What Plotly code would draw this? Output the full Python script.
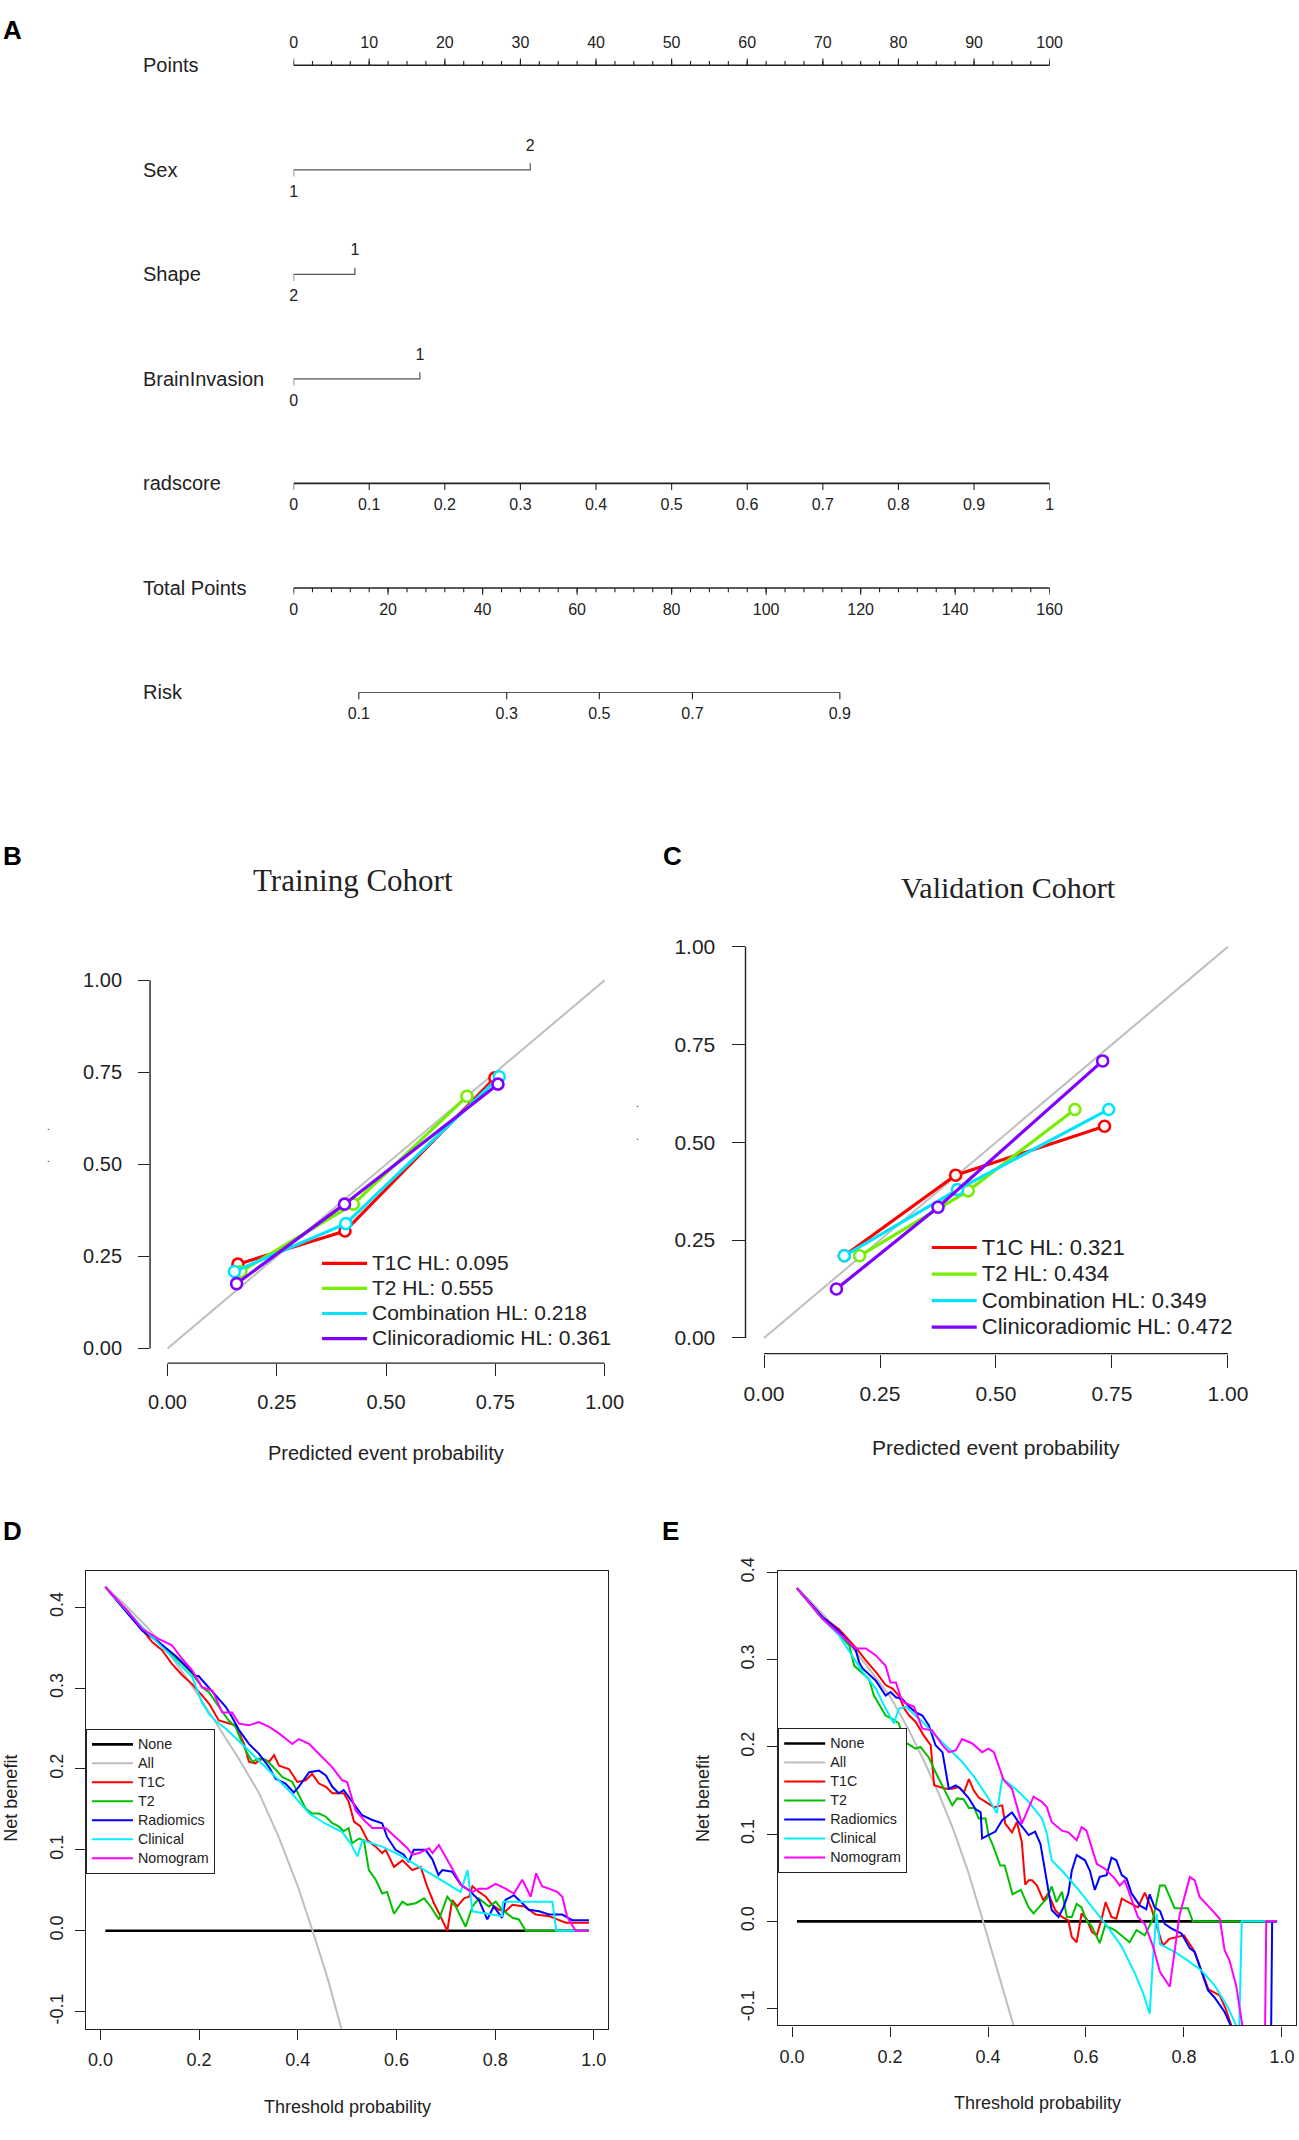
import numpy as np
import plotly.graph_objects as go

W, H = 1299, 2140
FONT = "Liberation Sans, Arial, Helvetica, sans-serif"
SERIF = "Liberation Serif, Times New Roman, serif"
INK = "#222222"

# ======================= DATA =======================
# ---- Panel A : nomogram ----
nomo_rows = ["Points", "Sex", "Shape", "BrainInvasion", "radscore", "Total Points", "Risk"]
points_ticks = [0, 10, 20, 30, 40, 50, 60, 70, 80, 90, 100]
points_minor_step = 2.5
sex_levels = ["1", "2"]
sex_points = [0, 31.3]
shape_levels = ["2", "1"]
shape_points = [0, 8.1]
brain_levels = ["0", "1"]
brain_points = [0, 16.7]
radscore_ticks = [0, 0.1, 0.2, 0.3, 0.4, 0.5, 0.6, 0.7, 0.8, 0.9, 1]
radscore_labels = ["0", "0.1", "0.2", "0.3", "0.4", "0.5", "0.6", "0.7", "0.8", "0.9", "1"]
radscore_full_points = 100
total_ticks = [0, 20, 40, 60, 80, 100, 120, 140, 160]
total_minor_step = 4
total_max = 160
risk_labels = ["0.1", "0.3", "0.5", "0.7", "0.9"]
risk_total_points = [13.8, 45.1, 64.7, 84.4, 115.6]

# ---- Panels B / C : calibration ----
cal_ticks = [0, 0.25, 0.5, 0.75, 1.0]
cal_ticktext = ["0.00", "0.25", "0.50", "0.75", "1.00"]
cal_models = ["T1C", "T2", "Combination", "Clinicoradiomic"]
train_hl = ["0.095", "0.555", "0.218", "0.361"]
valid_hl = ["0.321", "0.434", "0.349", "0.472"]
train_pred = [[0.161, 0.406, 0.749], [0.168, 0.425, 0.685], [0.153, 0.408, 0.759], [0.158, 0.405, 0.756]]
train_obs = [[0.229, 0.319, 0.735], [0.209, 0.392, 0.685], [0.209, 0.339, 0.738], [0.176, 0.392, 0.718]]
valid_pred = [[0.173, 0.413, 0.734], [0.206, 0.440, 0.670], [0.173, 0.417, 0.743], [0.156, 0.375, 0.730]]
valid_obs = [[0.210, 0.416, 0.541], [0.210, 0.376, 0.584], [0.210, 0.379, 0.584], [0.125, 0.334, 0.708]]
ideal = [0, 1]

# ---- Panels D / E : decision curves ----
dca_names = ["None", "All", "T1C", "T2", "Radiomics", "Clinical", "Nomogram"]
dca_xticks = [0, 0.2, 0.4, 0.6, 0.8, 1.0]
dca_xticktext = ["0.0", "0.2", "0.4", "0.6", "0.8", "1.0"]
dca_yticks = [-0.1, 0, 0.1, 0.2, 0.3, 0.4]
dca_yticktext = ["-0.1", "0.0", "0.1", "0.2", "0.3", "0.4"]

d_none = [(0.01, 0.0), (0.99, 0.0)]
d_all = [(0.01, 0.425), (0.05, 0.403), (0.10, 0.372), (0.15, 0.334), (0.20, 0.290), (0.24, 0.252),
         (0.28, 0.213), (0.32, 0.172), (0.36, 0.118), (0.40, 0.055), (0.43, 0.0), (0.46, -0.058), (0.49, -0.125)]
d_t1c = [(0.01, 0.425), (0.057, 0.394), (0.085, 0.372), (0.105, 0.357), (0.125, 0.347), (0.145, 0.330),
         (0.166, 0.316), (0.186, 0.305), (0.206, 0.291), (0.220, 0.281), (0.240, 0.260), (0.260, 0.256),
         (0.274, 0.254), (0.291, 0.231), (0.301, 0.209), (0.314, 0.207), (0.328, 0.213), (0.342, 0.209),
         (0.352, 0.217), (0.362, 0.204), (0.382, 0.200), (0.399, 0.184), (0.416, 0.186), (0.429, 0.194),
         (0.443, 0.182), (0.457, 0.178), (0.470, 0.170), (0.493, 0.170), (0.503, 0.160), (0.514, 0.135),
         (0.527, 0.129), (0.541, 0.112), (0.558, 0.104), (0.571, 0.096), (0.578, 0.100), (0.595, 0.079),
         (0.612, 0.087), (0.632, 0.075), (0.649, 0.079), (0.662, 0.055), (0.676, 0.034), (0.689, 0.018),
         (0.703, 0.0), (0.713, 0.038), (0.723, 0.030), (0.737, 0.040), (0.747, 0.042), (0.754, 0.055),
         (0.767, 0.048), (0.781, 0.042), (0.794, 0.032), (0.808, 0.026), (0.821, 0.024), (0.835, 0.032),
         (0.859, 0.030), (0.882, 0.020), (0.909, 0.018), (0.943, 0.010), (0.99, 0.010)]
d_t2 = [(0.01, 0.425), (0.057, 0.394), (0.085, 0.374), (0.118, 0.357), (0.145, 0.342), (0.166, 0.330),
        (0.186, 0.318), (0.206, 0.301), (0.220, 0.295), (0.240, 0.277), (0.260, 0.260), (0.274, 0.252),
        (0.288, 0.231), (0.298, 0.219), (0.308, 0.209), (0.321, 0.213), (0.335, 0.211), (0.348, 0.204),
        (0.369, 0.190), (0.389, 0.184), (0.402, 0.169), (0.416, 0.151), (0.429, 0.145), (0.443, 0.145),
        (0.457, 0.141), (0.470, 0.133), (0.483, 0.129), (0.493, 0.123), (0.503, 0.127), (0.510, 0.108),
        (0.524, 0.114), (0.534, 0.112), (0.544, 0.075), (0.558, 0.063), (0.571, 0.046), (0.581, 0.048),
        (0.595, 0.021), (0.612, 0.036), (0.622, 0.032), (0.639, 0.034), (0.656, 0.040), (0.669, 0.030),
        (0.686, 0.014), (0.703, 0.042), (0.720, 0.030), (0.740, 0.005), (0.754, 0.030), (0.767, 0.040),
        (0.787, 0.030), (0.801, 0.036), (0.814, 0.026), (0.835, 0.016), (0.848, 0.014), (0.862, 0.0),
        (0.99, 0.0)]
d_radiomics = [(0.01, 0.425), (0.057, 0.392), (0.085, 0.371), (0.118, 0.357), (0.152, 0.340), (0.179, 0.324),
               (0.193, 0.315), (0.199, 0.315), (0.213, 0.305), (0.233, 0.291), (0.254, 0.277), (0.267, 0.264),
               (0.281, 0.248), (0.301, 0.231), (0.321, 0.219), (0.342, 0.202), (0.355, 0.188), (0.375, 0.182),
               (0.392, 0.171), (0.402, 0.178), (0.423, 0.196), (0.443, 0.198), (0.457, 0.192), (0.470, 0.178),
               (0.483, 0.170), (0.493, 0.174), (0.503, 0.166), (0.514, 0.157), (0.530, 0.143), (0.551, 0.137),
               (0.571, 0.133), (0.581, 0.116), (0.598, 0.100), (0.615, 0.094), (0.625, 0.085), (0.635, 0.100),
               (0.659, 0.100), (0.673, 0.088), (0.685, 0.069), (0.693, 0.075), (0.713, 0.073), (0.730, 0.057),
               (0.747, 0.050), (0.767, 0.038), (0.784, 0.014), (0.797, 0.030), (0.814, 0.016), (0.821, 0.038),
               (0.838, 0.044), (0.855, 0.034), (0.868, 0.026), (0.889, 0.024), (0.909, 0.020), (0.936, 0.020),
               (0.956, 0.013), (0.99, 0.013)]
d_clinical = [(0.01, 0.425), (0.057, 0.393), (0.085, 0.375), (0.118, 0.355), (0.152, 0.334), (0.186, 0.314),
              (0.206, 0.282), (0.220, 0.268), (0.236, 0.258), (0.254, 0.250), (0.287, 0.231), (0.321, 0.211),
              (0.355, 0.190), (0.389, 0.169), (0.423, 0.145), (0.457, 0.132), (0.490, 0.122), (0.507, 0.108),
              (0.521, 0.092), (0.531, 0.112), (0.571, 0.104), (0.605, 0.094), (0.646, 0.079), (0.686, 0.065),
              (0.730, 0.048), (0.744, 0.075), (0.754, 0.024), (0.774, 0.022), (0.814, 0.018), (0.816, 0.036),
              (0.916, 0.036), (0.924, 0.0), (0.99, 0.0)]
d_nomogram = [(0.01, 0.425), (0.057, 0.394), (0.085, 0.373), (0.118, 0.361), (0.145, 0.353), (0.166, 0.336),
              (0.186, 0.322), (0.206, 0.301), (0.227, 0.297), (0.247, 0.270), (0.267, 0.270), (0.281, 0.256),
              (0.301, 0.254), (0.321, 0.258), (0.342, 0.252), (0.362, 0.244), (0.389, 0.231), (0.402, 0.237),
              (0.423, 0.231), (0.443, 0.219), (0.470, 0.202), (0.490, 0.186), (0.500, 0.184), (0.517, 0.149),
              (0.537, 0.135), (0.551, 0.127), (0.578, 0.127), (0.605, 0.112), (0.622, 0.102), (0.632, 0.094),
              (0.646, 0.096), (0.666, 0.102), (0.673, 0.096), (0.686, 0.106), (0.703, 0.087), (0.720, 0.069),
              (0.733, 0.055), (0.754, 0.048), (0.767, 0.052), (0.784, 0.052), (0.801, 0.058), (0.821, 0.052),
              (0.838, 0.046), (0.855, 0.063), (0.872, 0.042), (0.883, 0.071), (0.895, 0.055), (0.909, 0.052),
              (0.926, 0.048), (0.936, 0.042), (0.946, 0.017), (0.963, 0.0), (0.99, 0.0)]

e_none = [(0.01, 0.0), (0.99, 0.0)]
e_all = [(0.01, 0.383), (0.05, 0.360), (0.10, 0.330), (0.15, 0.295), (0.20, 0.258), (0.237, 0.221),
         (0.27, 0.183), (0.30, 0.146), (0.33, 0.104), (0.36, 0.056), (0.39, 0.0), (0.42, -0.058), (0.455, -0.125)]
e_t1c = [(0.01, 0.382), (0.062, 0.349), (0.096, 0.335), (0.130, 0.314), (0.151, 0.299), (0.171, 0.286),
         (0.191, 0.271), (0.205, 0.267), (0.218, 0.259), (0.229, 0.244), (0.239, 0.236), (0.252, 0.229),
         (0.269, 0.213), (0.283, 0.202), (0.290, 0.156), (0.313, 0.152), (0.327, 0.152), (0.340, 0.154),
         (0.351, 0.148), (0.361, 0.163), (0.371, 0.150), (0.381, 0.142), (0.395, 0.137), (0.412, 0.131),
         (0.429, 0.133), (0.435, 0.112), (0.449, 0.102), (0.459, 0.114), (0.469, 0.091), (0.476, 0.042),
         (0.483, 0.047), (0.490, 0.047), (0.500, 0.041), (0.513, 0.024), (0.523, 0.032), (0.537, 0.013),
         (0.551, 0.005), (0.564, 0.001), (0.571, -0.018), (0.581, -0.024), (0.591, 0.009), (0.601, 0.003),
         (0.612, -0.012), (0.622, -0.016), (0.632, 0.003), (0.640, 0.022), (0.652, 0.005), (0.662, 0.003),
         (0.673, 0.026), (0.686, 0.022), (0.706, 0.016), (0.720, 0.033), (0.734, 0.014), (0.747, -0.010),
         (0.757, -0.028), (0.770, -0.020), (0.800, -0.016), (0.820, -0.033), (0.835, -0.056), (0.850, -0.078),
         (0.873, -0.085), (0.885, -0.100), (0.900, -0.125), (0.920, -0.180)]
e_t2 = [(0.01, 0.382), (0.062, 0.347), (0.096, 0.330), (0.117, 0.316), (0.127, 0.293), (0.140, 0.286),
        (0.157, 0.278), (0.167, 0.259), (0.178, 0.248), (0.191, 0.236), (0.205, 0.232), (0.218, 0.227),
        (0.229, 0.206), (0.242, 0.202), (0.252, 0.198), (0.262, 0.200), (0.279, 0.188), (0.293, 0.171),
        (0.307, 0.156), (0.317, 0.145), (0.327, 0.133), (0.337, 0.141), (0.350, 0.140), (0.361, 0.130),
        (0.372, 0.130), (0.381, 0.118), (0.395, 0.118), (0.401, 0.099), (0.410, 0.087), (0.425, 0.064),
        (0.434, 0.064), (0.450, 0.031), (0.467, 0.036), (0.483, 0.016), (0.493, 0.009), (0.510, 0.020),
        (0.520, 0.026), (0.530, 0.040), (0.540, 0.022), (0.551, 0.034), (0.561, 0.005), (0.571, 0.005),
        (0.581, 0.020), (0.591, 0.016), (0.601, 0.001), (0.612, -0.006), (0.628, -0.025), (0.639, -0.005),
        (0.659, -0.010), (0.689, -0.024), (0.703, -0.010), (0.720, -0.016), (0.737, 0.003), (0.751, 0.041),
        (0.761, 0.041), (0.781, 0.015), (0.808, 0.015), (0.818, 0.0), (0.99, 0.0)]
e_radiomics = [(0.01, 0.382), (0.062, 0.349), (0.096, 0.333), (0.130, 0.311), (0.137, 0.297), (0.144, 0.290),
               (0.171, 0.276), (0.191, 0.259), (0.201, 0.263), (0.212, 0.257), (0.225, 0.255), (0.239, 0.246),
               (0.252, 0.240), (0.266, 0.236), (0.279, 0.225), (0.293, 0.202), (0.307, 0.194), (0.320, 0.152),
               (0.334, 0.156), (0.344, 0.152), (0.361, 0.141), (0.374, 0.129), (0.385, 0.125), (0.388, 0.095),
               (0.415, 0.103), (0.429, 0.116), (0.449, 0.125), (0.462, 0.114), (0.483, 0.099), (0.496, 0.103),
               (0.507, 0.089), (0.517, 0.055), (0.530, 0.013), (0.544, 0.005), (0.554, 0.016), (0.564, 0.032),
               (0.571, 0.058), (0.581, 0.076), (0.598, 0.070), (0.608, 0.058), (0.618, 0.036), (0.628, 0.051),
               (0.642, 0.053), (0.652, 0.073), (0.662, 0.070), (0.673, 0.053), (0.683, 0.049), (0.693, 0.032),
               (0.710, 0.018), (0.723, 0.014), (0.730, 0.031), (0.740, 0.016), (0.751, 0.012), (0.761, -0.003),
               (0.774, -0.008), (0.795, -0.014), (0.812, -0.031), (0.822, -0.035), (0.835, -0.056),
               (0.849, -0.079), (0.862, -0.087), (0.883, -0.104), (0.896, -0.120), (0.920, -0.170),
               (0.975, -0.300), (0.980, 0.0), (0.99, 0.0)]
e_clinical = [(0.01, 0.382), (0.062, 0.347), (0.096, 0.328), (0.117, 0.309), (0.144, 0.286), (0.171, 0.267),
              (0.191, 0.244), (0.208, 0.227), (0.218, 0.244), (0.232, 0.246), (0.266, 0.229), (0.293, 0.213),
              (0.320, 0.198), (0.347, 0.183), (0.374, 0.164), (0.401, 0.141), (0.418, 0.124), (0.429, 0.164),
              (0.456, 0.152), (0.483, 0.137), (0.510, 0.118), (0.520, 0.101), (0.530, 0.070), (0.551, 0.058),
              (0.585, 0.036), (0.618, 0.013), (0.645, -0.007), (0.673, -0.029), (0.700, -0.060), (0.717, -0.083),
              (0.730, -0.106), (0.737, -0.041), (0.744, 0.009), (0.751, -0.026), (0.781, -0.035), (0.808, -0.045),
              (0.835, -0.056), (0.862, -0.073), (0.889, -0.098), (0.907, -0.120), (0.912, -0.140), (0.918, 0.0),
              (0.99, 0.0)]
e_nomogram = [(0.01, 0.382), (0.062, 0.347), (0.096, 0.330), (0.130, 0.313), (0.151, 0.313), (0.171, 0.305),
              (0.191, 0.293), (0.201, 0.274), (0.212, 0.274), (0.222, 0.257), (0.229, 0.251), (0.249, 0.246),
              (0.266, 0.221), (0.286, 0.219), (0.307, 0.202), (0.320, 0.194), (0.334, 0.196), (0.347, 0.209),
              (0.368, 0.204), (0.388, 0.194), (0.401, 0.198), (0.412, 0.194), (0.432, 0.162), (0.449, 0.152),
              (0.469, 0.112), (0.493, 0.143), (0.510, 0.137), (0.520, 0.131), (0.530, 0.114), (0.551, 0.104),
              (0.564, 0.102), (0.581, 0.093), (0.591, 0.108), (0.601, 0.104), (0.622, 0.066), (0.639, 0.060),
              (0.659, 0.049), (0.669, 0.041), (0.679, 0.047), (0.706, 0.005), (0.720, -0.003), (0.737, -0.029),
              (0.751, -0.058), (0.771, -0.075), (0.791, 0.007), (0.812, 0.051), (0.822, 0.047), (0.832, 0.028),
              (0.852, 0.016), (0.873, 0.003), (0.883, -0.033), (0.893, -0.045), (0.907, -0.075), (0.920, -0.120),
              (0.930, -0.160), (0.962, -0.300), (0.968, 0.0), (0.99, 0.0)]

# ======================= STYLE =======================
CAL_COLORS = ["#FF0000", "#76EE00", "#00E5FF", "#7F00FF"]
DCA_COLORS = ["#000000", "#BEBEBE", "#FF0000", "#00C000", "#0000FF", "#00F0FF", "#FF00FF"]
DCA_WIDTHS = [2.6, 2, 2, 2, 2, 2, 2]
VCOMP = 0.0055  # small vertical compensation for page rendering


def px(x):
    return x / W


def ypix(y):
    return y - VCOMP * (H - y)


def py(y):
    return min(1.0, max(0.0, 1 - ypix(y) / H))


fig = go.Figure()

# ---------------- Panel A ----------------
ROW_PX = 104.6
T_MAJ = 6.7 / ROW_PX
T_MIN = 4.3 / ROW_PX
LBL = 23 / ROW_PX
LBL_TOP = 21 / ROW_PX


def add_line(xs, ys, color=INK, width=1.4):
    fig.add_trace(go.Scatter(x=xs, y=ys, mode="lines", line=dict(color=color, width=width),
                             xaxis="x", yaxis="y", showlegend=False, hoverinfo="skip"))


def add_ticks(xs, y0, y1, width=1.1):
    X, Y = [], []
    for v in xs:
        X += [v, v, None]
        Y += [y0, y1, None]
    add_line(X, Y, width=width)


def add_labels(xs, y, texts):
    fig.add_trace(go.Scatter(x=xs, y=[y] * len(xs), text=texts, mode="text", textposition="middle center",
                             textfont=dict(family=FONT, size=16, color=INK), cliponaxis=False,
                             xaxis="x", yaxis="y", showlegend=False, hoverinfo="skip"))


# Points
r = 0
add_line([points_ticks[0], points_ticks[-1]], [r, r], width=1.5)
add_ticks(list(np.arange(points_ticks[0], points_ticks[-1] + 1e-9, points_minor_step)), r, r - T_MIN)
add_ticks(points_ticks, r, r - T_MAJ)
add_labels(points_ticks, r - LBL_TOP, [str(v) for v in points_ticks])

# categorical predictors
for r, (levels, pts) in enumerate([(sex_levels, sex_points), (shape_levels, shape_points),
                                   (brain_levels, brain_points)], start=1):
    add_line([pts[0], pts[0], pts[1], pts[1]], [r + T_MAJ, r, r, r - T_MAJ], color="#555555", width=1.2)
    add_labels([pts[0]], r + LBL, [levels[0]])
    add_labels([pts[1]], r - LBL, [levels[1]])

# radscore
r = 4
rad_pts = [v * radscore_full_points for v in radscore_ticks]
add_line([rad_pts[0], rad_pts[-1]], [r, r], width=1.6)
add_ticks(rad_pts, r, r + T_MAJ)
add_labels(rad_pts, r + LBL, radscore_labels)

# total points
r = 5
tot_pts = [v * 100 / total_max for v in total_ticks]
add_line([tot_pts[0], tot_pts[-1]], [r, r], width=1.6)
add_ticks([v * 100 / total_max for v in np.arange(0, total_max + 1e-9, total_minor_step)], r, r + T_MIN)
add_ticks(tot_pts, r, r + T_MAJ)
add_labels(tot_pts, r + LBL, [str(v) for v in total_ticks])

# risk
r = 6
risk_pts = [v * 100 / total_max for v in risk_total_points]
add_line([risk_pts[0], risk_pts[-1]], [r, r], color="#555555", width=1.2)
add_ticks(risk_pts, r, r + T_MAJ)
add_labels(risk_pts, r + LBL, risk_labels)

annotations = []
for i, name in enumerate(nomo_rows):
    annotations.append(dict(text=name, x=px(139), y=i, xref="paper", yref="y", xanchor="left",
                            yanchor="middle", showarrow=False, font=dict(family=FONT, size=20, color=INK)))

# nomogram vertical geometry (row 0 line at y=64 px, rows 104.6 px apart)
row0_px = ypix(64)
row_px_c = ROW_PX * (1 + VCOMP)
nomo_bottom_px = row0_px + 6.6 * row_px_c

# ---------------- Panels B, C ----------------
for k, (xa, ya, lg, preds, obs, hls, fs) in enumerate([
        ("x2", "y2", "legend", train_pred, train_obs, train_hl, 21),
        ("x3", "y3", "legend2", valid_pred, valid_obs, valid_hl, 22)]):
    fig.add_trace(go.Scatter(x=ideal, y=ideal, mode="lines", line=dict(color="#BEBEBE", width=2),
                             xaxis=xa, yaxis=ya, showlegend=False, hoverinfo="skip"))
    for i, m in enumerate(cal_models):
        fig.add_trace(go.Scatter(x=preds[i], y=obs[i], mode="lines", line=dict(color=CAL_COLORS[i], width=3.2),
                                 name="<span style='font-size:%dpx'>%s HL: %s</span>" % (fs, m, hls[i]),
                                 legend=lg, xaxis=xa, yaxis=ya, hoverinfo="skip"))
        fig.add_trace(go.Scatter(x=preds[i], y=obs[i], mode="markers",
                                 marker=dict(symbol="circle", size=11, color="white",
                                             line=dict(color=CAL_COLORS[i], width=2.6)),
                                 xaxis=xa, yaxis=ya, showlegend=False, hoverinfo="skip"))

# ---------------- Panels D, E ----------------
for xa, ya, lg, series in [("x4", "y4", "legend3",
                            [d_none, d_all, d_t1c, d_t2, d_radiomics, d_clinical, d_nomogram]),
                           ("x5", "y5", "legend4",
                            [e_none, e_all, e_t1c, e_t2, e_radiomics, e_clinical, e_nomogram])]:
    for i, s in enumerate(series):
        xs, ys = zip(*s)
        fig.add_trace(go.Scatter(x=list(xs), y=list(ys), mode="lines",
                                 line=dict(color=DCA_COLORS[i], width=DCA_WIDTHS[i]),
                                 name="<span style='font-size:14.3px'>%s</span>" % dca_names[i],
                                 legend=lg, xaxis=xa, yaxis=ya, hoverinfo="skip"))

# ---------------- axes ----------------
hidden = dict(visible=False, showgrid=False, zeroline=False)
layout = dict(
    width=W, height=H, margin=dict(l=0, r=0, t=0, b=0),
    paper_bgcolor="white", plot_bgcolor="white",
    font=dict(family=FONT, color=INK),
    xaxis=dict(domain=[px(292.5), px(1050.9)], range=[0, 100], anchor="y", **hidden),
    yaxis=dict(domain=[1 - nomo_bottom_px / H, 1.0], range=[6.6, -row0_px / row_px_c], anchor="x", **hidden),
)

cal_common = dict(range=[-0.04, 1.04], showgrid=False, zeroline=False, showline=False, ticks="outside",
                  tickvals=cal_ticks, ticktext=cal_ticktext, tickcolor=INK, tickwidth=1.3)
layout["xaxis2"] = dict(domain=[px(148.5), px(622)], anchor="y2", ticklen=12, ticklabelstandoff=9,
                        tickfont=dict(size=20), **cal_common)
layout["yaxis2"] = dict(domain=[py(1362.7), py(964.9)], anchor="x2", ticklen=11, ticklabelstandoff=12,
                        tickfont=dict(size=20), **cal_common)
layout["xaxis3"] = dict(domain=[px(745.8), px(1248.3)], anchor="y3", ticklen=13, ticklabelstandoff=8,
                        tickfont=dict(size=21), **cal_common)
layout["yaxis3"] = dict(domain=[py(1353.1), py(930.3)], anchor="x3", ticklen=13, ticklabelstandoff=12,
                        tickfont=dict(size=21), **cal_common)

dca_x = dict(range=[-0.0293, 1.0293], showgrid=False, zeroline=False, showline=True, mirror=True,
             linecolor=INK, linewidth=1.4, ticks="outside", ticklen=10, tickcolor=INK, tickwidth=1.2,
             tickvals=dca_xticks, ticktext=dca_xticktext, tickfont=dict(size=18), ticklabelstandoff=5)
dca_y = dict(showgrid=False, zeroline=False, showline=True, mirror=True,
             linecolor=INK, linewidth=1.4, ticks="outside", ticklen=10, tickcolor=INK, tickwidth=1.2,
             tickvals=dca_yticks, ticktext=dca_yticktext, tickfont=dict(size=18), tickangle=-90,
             ticklabelstandoff=5)
layout["xaxis4"] = dict(domain=[px(84.2), px(608.2)], anchor="y4", **dca_x)
layout["yaxis4"] = dict(domain=[py(2028.6), py(1570.6)], anchor="x4", range=[-0.1211, 0.4449], **dca_y)
layout["xaxis5"] = dict(domain=[px(778.1), px(1298.3)], anchor="y5", **dca_x)
layout["yaxis5"] = dict(domain=[py(2025.3), py(1570.2)], anchor="x5", range=[-0.1193, 0.4023], **dca_y)

# legends
layout["legend"] = dict(x=px(316), y=py(1245.2), xanchor="left", yanchor="top", bgcolor="rgba(0,0,0,0)",
                        borderwidth=0, font=dict(size=17, family=FONT, color=INK), itemwidth=45)
layout["legend2"] = dict(x=px(927.6), y=py(1228.7), xanchor="left", yanchor="top", bgcolor="rgba(0,0,0,0)",
                         borderwidth=0, font=dict(size=18.1, family=FONT, color=INK), itemwidth=45)
dca_leg = dict(xanchor="left", yanchor="top", bgcolor="white", bordercolor=INK, borderwidth=1,
               font=dict(size=12, family=FONT, color=INK), itemwidth=41)
layout["legend3"] = dict(x=px(84.2), y=py(1728.6), **dca_leg)
layout["legend4"] = dict(x=px(778.6), y=py(1727.8), **dca_leg)

# shapes: partial axis lines of calibration plots (R style)
shapes = []
for xa, ya in [("x2", "y2"), ("x3", "y3")]:
    shapes.append(dict(type="line", xref=xa + " domain", yref=ya, x0=0, x1=0, y0=0, y1=1,
                       line=dict(color=INK, width=1.4)))
    shapes.append(dict(type="line", xref=xa, yref=ya + " domain", x0=0, x1=1, y0=0, y1=0,
                       line=dict(color=INK, width=1.4)))
layout["shapes"] = shapes


def ann(text, x, y, size, family=FONT, angle=0, bold=False):
    annotations.append(dict(text=("<b>%s</b>" % text) if bold else text, x=px(x), y=py(y), xref="paper",
                            yref="paper", xanchor="center", yanchor="middle", showarrow=False,
                            textangle=angle, font=dict(family=family, size=size, color="black" if bold else INK)))


ann("A", 10.5, 28.3, 26, bold=True)
ann("B", 10.4, 855.2, 26, bold=True)
ann("C", 672.8, 855.2, 26, bold=True)
ann("D", 10.4, 1530.6, 26, bold=True)
ann("E", 670.7, 1530.6, 26, bold=True)
ann("Training Cohort", 351.6, 880, 31, family=SERIF)
ann("Validation Cohort", 1009.9, 886.3, 30, family=SERIF)
ann("Predicted event probability", 385, 1452.3, 20)
ann("Predicted event probability", 997, 1447, 21)
ann("Threshold probability", 346.2, 2106.9, 18)
ann("Threshold probability", 1039, 2102.9, 18)
ann("Net benefit", 9.5, 1798, 18, angle=-90)
ann("Net benefit", 703, 1798, 18, angle=-90)
for (x, y) in [(46.4, 1126), (46.4, 1158), (637.2, 1103), (637.2, 1136)]:
    ann(".", x, y, 10)
layout["annotations"] = annotations

fig.update_layout(**layout)
fig.write_html("out.html", config={"displayModeBar": False},
               post_script="document.body.style.margin='0';")
